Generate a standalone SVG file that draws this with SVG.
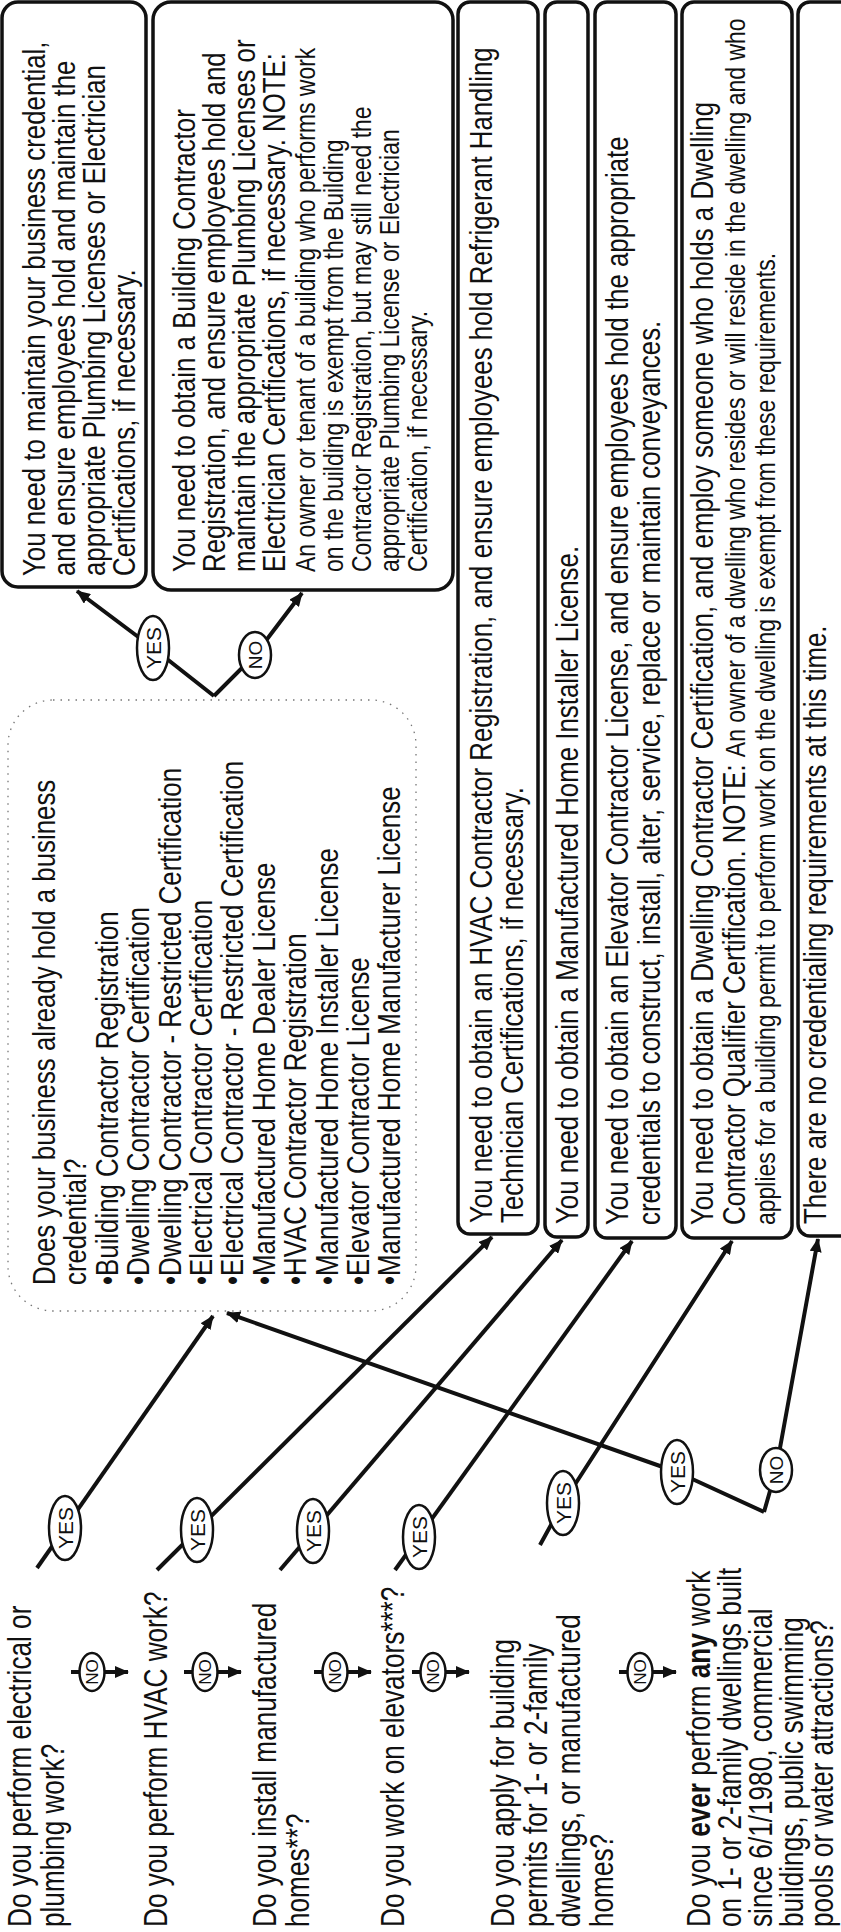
<svg xmlns="http://www.w3.org/2000/svg" width="841" height="1932" viewBox="0 0 841 1932">
<defs>
<style>
.t{font-family:"Liberation Sans",Arial,Helvetica,sans-serif;fill:#111}
.n{font-size:31.5px}
.s{font-size:28px}
.q{font-size:34px}
.b{font-weight:bold}
.box{fill:#fff;stroke:#111;stroke-width:3.5}
.dot{fill:none;stroke:#777;stroke-width:1.3;stroke-dasharray:1.5 6}
.ln{fill:none;stroke:#111;stroke-width:4;stroke-linejoin:round}
.bub{fill:#fff;stroke:#111;stroke-width:2.5}
.yn{font-family:"Liberation Sans",Arial,sans-serif;fill:#111;text-anchor:middle}
</style>
<marker id="ah" viewBox="0 0 14 12" markerWidth="14" markerHeight="12" refX="13" refY="6" orient="auto" markerUnits="userSpaceOnUse">
<path d="M0,0 L14,6 L0,12 z" fill="#111"/>
</marker>
</defs>
<rect x="0" y="0" width="841" height="1932" fill="#fff"/>

<g id="box-a">
<rect class="box" x="2" y="2" width="144" height="585" rx="16"/>
<text class="t n" transform="translate(45,576) rotate(-90) scale(0.82,1)"><tspan x="0" y="0">You need to maintain your business credential,</tspan><tspan x="0" y="30">and ensure employees hold and maintain the</tspan><tspan x="0" y="60">appropriate Plumbing Licenses or Electrician</tspan><tspan x="0" y="90">Certifications, if necessary.</tspan></text>
</g>

<g id="box-b">
<rect class="box" x="153" y="2" width="300" height="588" rx="18"/>
<text class="t n" transform="translate(195,572) rotate(-90) scale(0.82,1)"><tspan x="0" y="0">You need to obtain a Building Contractor</tspan><tspan x="0" y="30">Registration, and ensure  employees hold and</tspan><tspan x="0" y="60">maintain the appropriate Plumbing Licenses or</tspan><tspan x="0" y="90">Electrician Certifications, if necessary.  NOTE:</tspan><tspan class="s" x="0" y="120">An owner or tenant of a building who performs work</tspan><tspan class="s" x="0" y="148">on the building is exempt from the Building</tspan><tspan class="s" x="0" y="176">Contractor Registration, but may still need the</tspan><tspan class="s" x="0" y="204">appropriate Plumbing License or Electrician</tspan><tspan class="s" x="0" y="232">Certification, if necessary.</tspan></text>
</g>

<g id="box-c">
<rect class="box" x="458" y="2" width="80" height="1232" rx="12"/>
<text class="t n" transform="translate(492,1223) rotate(-90) scale(0.82,1)"><tspan x="0" y="0">You need to obtain an HVAC Contractor Registration, and ensure employees hold Refrigerant Handling</tspan><tspan x="0" y="31">Technician Certifications, if necessary.</tspan></text>
</g>

<g id="box-d">
<rect class="box" x="545" y="2" width="43" height="1235" rx="12"/>
<text class="t n" transform="translate(578,1224) rotate(-90) scale(0.82,1)">You need to obtain a Manufactured Home Installer License.</text>
</g>

<g id="box-e">
<rect class="box" x="595" y="2" width="81" height="1236" rx="12"/>
<text class="t n" transform="translate(628,1225) rotate(-90) scale(0.82,1)"><tspan x="0" y="0">You need to obtain an Elevator Contractor License, and ensure employees hold the appropriate</tspan><tspan x="0" y="32">credentials to construct, install, alter, service, replace or maintain conveyances.</tspan></text>
</g>

<g id="box-f">
<rect class="box" x="682" y="2" width="110" height="1236" rx="12"/>
<text class="t n" transform="translate(713,1225) rotate(-90) scale(0.82,1)"><tspan x="0" y="0">You need to obtain a Dwelling Contractor Certification, and employ someone who holds a Dwelling</tspan><tspan x="0" y="32">Contractor Qualifier Certification.  NOTE: </tspan><tspan class="s">An owner of a dwelling who resides or will reside in the dwelling and who</tspan><tspan class="s" x="0" y="62">applies for a building permit to perform work on the dwelling is exempt from these requirements.</tspan></text>
</g>

<g id="box-g">
<rect class="box" x="798" y="2" width="80" height="1234" rx="12"/>
<text class="t n" transform="translate(826,1224) rotate(-90) scale(0.82,1)">There are no credentialing requirements at this time.</text>
</g>

<g id="list-box">
<rect class="dot" x="8" y="700" width="408" height="611" rx="45"/>
<text class="t n" transform="translate(55,1285) rotate(-90) scale(0.82,1)"><tspan x="0" y="0">Does your business already hold a business</tspan><tspan x="0" y="31.4">credential?</tspan><tspan x="0" y="62.8">•Building Contractor Registration</tspan><tspan x="0" y="94.2">•Dwelling Contractor Certification</tspan><tspan x="0" y="125.6">•Dwelling Contractor - Restricted Certification</tspan><tspan x="0" y="157">•Electrical Contractor Certification</tspan><tspan x="0" y="188.4">•Electrical Contractor - Restricted Certification</tspan><tspan x="0" y="219.8">•Manufactured Home Dealer License</tspan><tspan x="0" y="251.2">•HVAC Contractor Registration</tspan><tspan x="0" y="282.6">•Manufactured Home Installer License</tspan><tspan x="0" y="314">•Elevator Contractor License</tspan><tspan x="0" y="345.4">•Manufactured Home Manufacturer License</tspan></text>
</g>

<g id="q1">
<text class="t q" transform="translate(31,1927) rotate(-90) scale(0.77,1)"><tspan x="0" y="0">Do you perform electrical or</tspan><tspan x="0" y="33">plumbing work?</tspan></text>
</g>
<g id="q2">
<text class="t q" transform="translate(167,1927) rotate(-90) scale(0.77,1)">Do you perform HVAC work?</text>
</g>
<g id="q3">
<text class="t q" transform="translate(276,1927) rotate(-90) scale(0.77,1)"><tspan x="0" y="0">Do you install manufactured</tspan><tspan x="0" y="33">homes**?</tspan></text>
</g>
<g id="q4">
<text class="t q" transform="translate(404,1927) rotate(-90) scale(0.77,1)">Do you work on elevators***?</text>
</g>
<g id="q5">
<text class="t q" transform="translate(514,1927) rotate(-90) scale(0.77,1)"><tspan x="0" y="0">Do you apply for building</tspan><tspan x="0" y="33">permits for 1- or 2-family</tspan><tspan x="0" y="66">dwellings, or  manufactured</tspan><tspan x="0" y="99">homes?</tspan></text>
</g>
<g id="q6">
<text class="t q" transform="translate(710,1927) rotate(-90) scale(0.77,1)"><tspan x="0" y="0">Do you <tspan class="b">ever</tspan> perform <tspan class="b">any</tspan> work</tspan><tspan x="0" y="31">on 1- or 2-family dwellings built</tspan><tspan x="0" y="62">since 6/1/1980, commercial</tspan><tspan x="0" y="93">buildings, public swimming</tspan><tspan x="0" y="123">pools or water attractions?</tspan></text>
</g>

<g id="connectors">
<path class="ln" d="M214,696 L153,648 L77,591" marker-end="url(#ah)"/>
<path class="ln" d="M214,696 L255,655 L302,593" marker-end="url(#ah)"/>
<path class="ln" d="M37,1568 L213,1316" marker-end="url(#ah)"/>
<path class="ln" d="M157,1570 L492,1237" marker-end="url(#ah)"/>
<path class="ln" d="M280,1570 L562,1240" marker-end="url(#ah)"/>
<path class="ln" d="M395,1570 L632,1241" marker-end="url(#ah)"/>
<path class="ln" d="M540,1545 L563,1503 L732,1241" marker-end="url(#ah)"/>
<path class="ln" d="M764,1512 L677,1472 L227,1313" marker-end="url(#ah)"/>
<path class="ln" d="M764,1512 L776,1470 L818,1239" marker-end="url(#ah)"/>
<path class="ln" d="M71,1672 L128,1672" marker-end="url(#ah)"/>
<path class="ln" d="M184,1672 L241,1672" marker-end="url(#ah)"/>
<path class="ln" d="M314,1672 L371,1672" marker-end="url(#ah)"/>
<path class="ln" d="M412,1672 L469,1672" marker-end="url(#ah)"/>
<path class="ln" d="M619,1672 L676,1672" marker-end="url(#ah)"/>
</g>

<g id="labels">
<g id="yes-list"><ellipse class="bub" cx="153" cy="648" rx="16" ry="32"/><text class="yn" font-size="21" transform="translate(153,648) rotate(-90)" y="7.5">YES</text></g>
<g id="no-list"><ellipse class="bub" cx="255" cy="655" rx="16" ry="23"/><text class="yn" font-size="19" transform="translate(255,655) rotate(-90)" y="7">NO</text></g>
<g id="yes1"><ellipse class="bub" cx="65" cy="1528" rx="16" ry="32"/><text class="yn" font-size="21" transform="translate(65,1528) rotate(-90)" y="7.5">YES</text></g>
<g id="yes2"><ellipse class="bub" cx="197" cy="1530" rx="16" ry="32"/><text class="yn" font-size="21" transform="translate(197,1530) rotate(-90)" y="7.5">YES</text></g>
<g id="yes3"><ellipse class="bub" cx="313" cy="1531" rx="16" ry="32"/><text class="yn" font-size="21" transform="translate(313,1531) rotate(-90)" y="7.5">YES</text></g>
<g id="yes4"><ellipse class="bub" cx="419" cy="1537" rx="16" ry="32"/><text class="yn" font-size="21" transform="translate(419,1537) rotate(-90)" y="7.5">YES</text></g>
<g id="yes5"><ellipse class="bub" cx="563" cy="1503" rx="16" ry="32"/><text class="yn" font-size="21" transform="translate(563,1503) rotate(-90)" y="7.5">YES</text></g>
<g id="yes6"><ellipse class="bub" cx="677" cy="1472" rx="16" ry="32"/><text class="yn" font-size="21" transform="translate(677,1472) rotate(-90)" y="7.5">YES</text></g>
<g id="no6"><ellipse class="bub" cx="776" cy="1470" rx="16" ry="22"/><text class="yn" font-size="19" transform="translate(776,1470) rotate(-90)" y="7">NO</text></g>
<g id="no1"><ellipse class="bub" cx="92" cy="1672" rx="12.5" ry="19"/><text class="yn" font-size="17" transform="translate(92,1672) rotate(-90)" y="6">NO</text></g>
<g id="no2"><ellipse class="bub" cx="205" cy="1672" rx="12.5" ry="19"/><text class="yn" font-size="17" transform="translate(205,1672) rotate(-90)" y="6">NO</text></g>
<g id="no3"><ellipse class="bub" cx="335" cy="1672" rx="12.5" ry="19"/><text class="yn" font-size="17" transform="translate(335,1672) rotate(-90)" y="6">NO</text></g>
<g id="no4"><ellipse class="bub" cx="433" cy="1672" rx="12.5" ry="19"/><text class="yn" font-size="17" transform="translate(433,1672) rotate(-90)" y="6">NO</text></g>
<g id="no5"><ellipse class="bub" cx="640" cy="1672" rx="12.5" ry="19"/><text class="yn" font-size="17" transform="translate(640,1672) rotate(-90)" y="6">NO</text></g>
</g>
</svg>
